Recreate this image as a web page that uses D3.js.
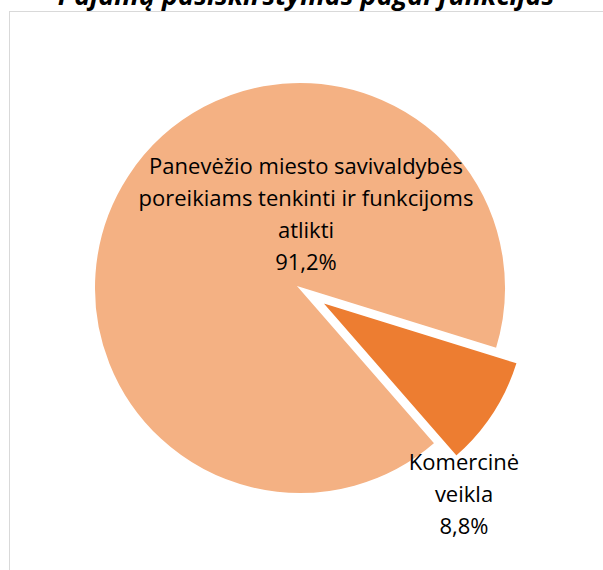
<!DOCTYPE html>
<html><head><meta charset="utf-8">
<script src="https://cdn.jsdelivr.net/npm/d3@7"></script>
<style>
html,body{margin:0;padding:0;background:#fff;overflow:hidden;}
svg{display:block;}
</style>
</head><body>
<svg id="chart" width="603" height="570"></svg>
<script>
const title = "Pajamų pasiskirstymas pagal funkcijas";
const categories = ["Panevėžio miesto savivaldybės poreikiams tenkinti ir funkcijoms atlikti", "Komercinė veikla"];
const values = [91.2, 8.8];
const labelLines = [["Panevėžio miesto savivaldybės", "poreikiams tenkinti ir funkcijoms", "atlikti", "91,2%"], ["Komercinė", "veikla", "8,8%"]];
const colors = ["#F4B183", "#ED7D31"];
const explode = [0, 25];

const svg = d3.select("#chart");
const font = "'Open Sans', Lato, sans-serif";

// chart area border
svg.append("rect").attr("x", 9.5).attr("y", 11.5).attr("width", 620).attr("height", 600)
  .attr("fill", "#fff").attr("stroke", "#d9d9d9").attr("stroke-width", 1);

// title
svg.append("text").attr("x", 306).attr("y", 5).attr("text-anchor", "middle")
  .attr("font-family", font).attr("font-weight", "bold").attr("font-style", "italic")
  .attr("font-size", 27).attr("fill", "#000").text(title);

const cx = 300, cy = 288, r = 206;
const deg = Math.PI / 180;
const pie = d3.pie().sort(null).startAngle(138.9 * deg).endAngle(138.9 * deg + 2 * Math.PI);
const arcs = pie(values);
const arc = d3.arc().innerRadius(0).outerRadius(r);

const g = svg.append("g").attr("transform", `translate(${cx},${cy})`);
g.selectAll("path").data(arcs).join("path")
  .attr("d", arc)
  .attr("transform", (d, i) => {
    const a = (d.startAngle + d.endAngle) / 2;
    return `translate(${Math.sin(a) * explode[i]},${-Math.cos(a) * explode[i]})`;
  })
  .attr("fill", (d, i) => colors[i])
  .attr("stroke", "#fff").attr("stroke-width", 2).attr("stroke-linejoin", "miter");

// labels
const labelPos = [[306, 174], [464, 470]];
const lineH = 32;
labelLines.forEach((lines, i) => {
  const t = svg.append("text").attr("text-anchor", "middle")
    .attr("font-family", font).attr("font-size", 22).attr("fill", "#000");
  lines.forEach((ln, j) => {
    t.append("tspan").attr("x", labelPos[i][0]).attr("y", labelPos[i][1] + j * lineH).text(ln);
  });
});
</script>
</body></html>
